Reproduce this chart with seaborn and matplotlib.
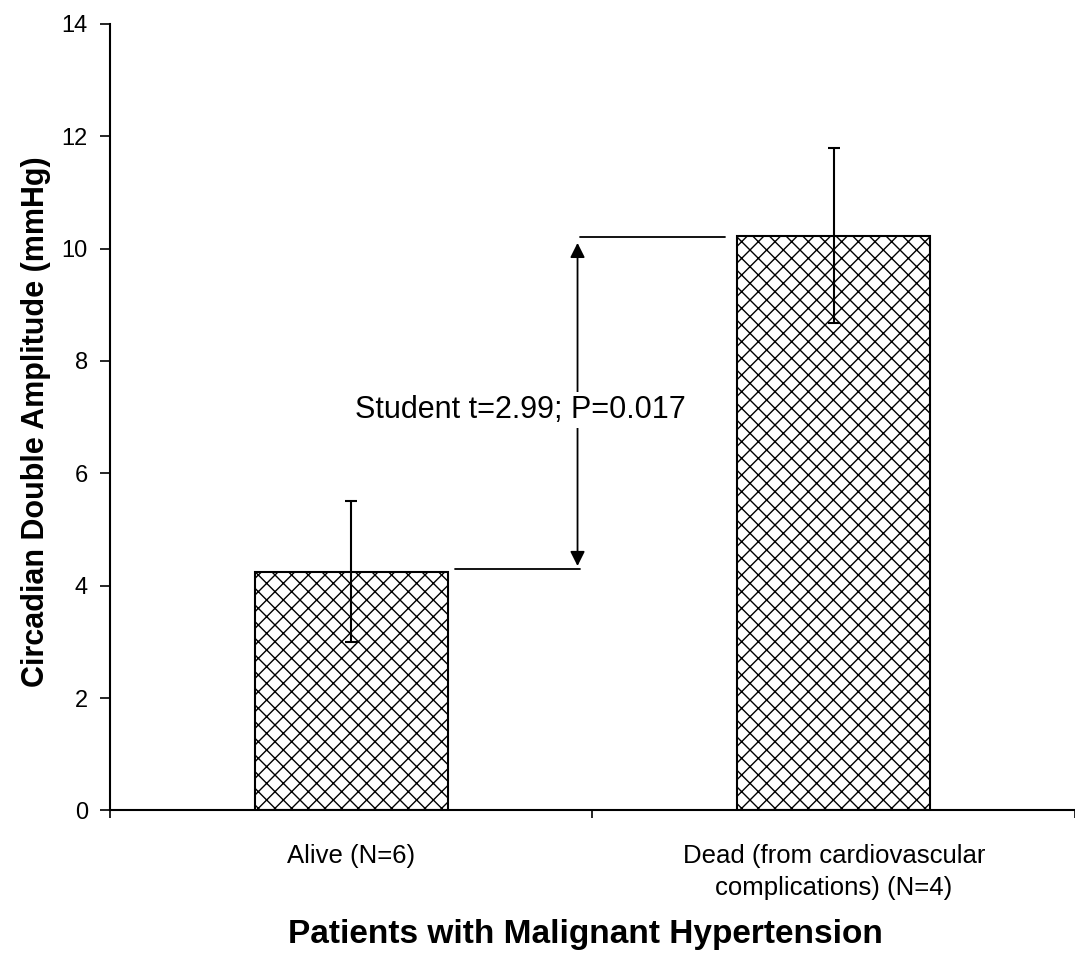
import matplotlib
matplotlib.use("Agg")
import matplotlib.pyplot as plt
import seaborn as sns
import pandas as pd
import numpy as np

categories = ["Alive (N=6)", "Dead (from cardiovascular\ncomplications) (N=4)"]
means = [4.25, 10.23]
errors = [1.26, 1.56]
yticks = [0, 2, 4, 6, 8, 10, 12, 14]
annot_text = "Student t=2.99; P=0.017"
annot_low = 4.3
annot_high = 10.2

sns.set_theme(style="white")
plt.rcParams['font.family'] = ['Liberation Sans', 'DejaVu Sans']
plt.rcParams['hatch.linewidth'] = 1.0
plt.rcParams['hatch.color'] = 'black'
plt.rcParams['text.color'] = 'black'
plt.rcParams['axes.labelcolor'] = 'black'
plt.rcParams['xtick.color'] = 'black'
plt.rcParams['ytick.color'] = 'black'

df = pd.DataFrame({"group": categories, "value": means})

fig = plt.figure(figsize=(10.75, 9.56), dpi=100)
ax = fig.add_axes([0.1023, 0.1522, 0.8977, 0.823])

sns.barplot(data=df, x="group", y="value", ax=ax, color="white",
            edgecolor="black", linewidth=1.5, width=0.40, errorbar=None,
            saturation=1)
for p in ax.patches:
    p.set_hatch('xx')
    p.set_facecolor('white')
    p.set_edgecolor('black')

ax.errorbar(x=np.arange(len(means)), y=means, yerr=errors, fmt='none',
            ecolor='black', elinewidth=1.5, capsize=4, capthick=1.5, zorder=5)

ax.set_xlim(-0.5, 1.49)
ax.set_ylim(0, 14)
ax.set_yticks(yticks)
ax.set_yticklabels([str(t) for t in yticks], fontsize=17)
ax.tick_params(axis='y', left=True, direction='out', length=7, width=1.2, pad=9, colors='black')
ax.tick_params(axis='x', which='major', bottom=False, length=0, pad=24, labelsize=18.5)
ax.set_xticks([-0.5, 0.5, 1.5], minor=True)
ax.tick_params(axis='x', which='minor', bottom=True, direction='out', length=6, width=1.2, colors='black')
for lbl in ax.get_xticklabels():
    lbl.set_ha('center')
    lbl.set_multialignment('center')
    lbl.set_linespacing(1.45)

for s in ['top', 'right']:
    ax.spines[s].set_visible(False)
for s in ['left', 'bottom']:
    ax.spines[s].set_color('black')
    ax.spines[s].set_linewidth(1.5)

ax.set_ylabel("Circadian Double Amplitude (mmHg)", fontsize=22, fontweight='bold')
ax.yaxis.set_label_coords(-0.061, 0.494)
ax.set_xlabel("Patients with Malignant Hypertension", fontsize=24, fontweight='bold')
ax.xaxis.label.set_va('baseline')
ax.xaxis.set_label_coords(0.493, -0.168)

# annotation lines
ax.plot([0.215, 0.475], [annot_low, annot_low], color='black', lw=1.3)
ax.plot([0.475, 0.775], [annot_high, annot_high], color='black', lw=1.3)
ax.annotate("", xy=(0.469, annot_high - 0.1), xytext=(0.469, annot_low + 0.05),
            arrowprops=dict(arrowstyle='<|-|>', color='black', lw=1.3,
                            mutation_scale=22, shrinkA=0, shrinkB=0))
ax.text(0.35, 7.13, annot_text, fontsize=22, ha='center', va='center',
        bbox=dict(facecolor='white', edgecolor='none', pad=2), zorder=6)

fig.savefig("out.png", dpi=100)
